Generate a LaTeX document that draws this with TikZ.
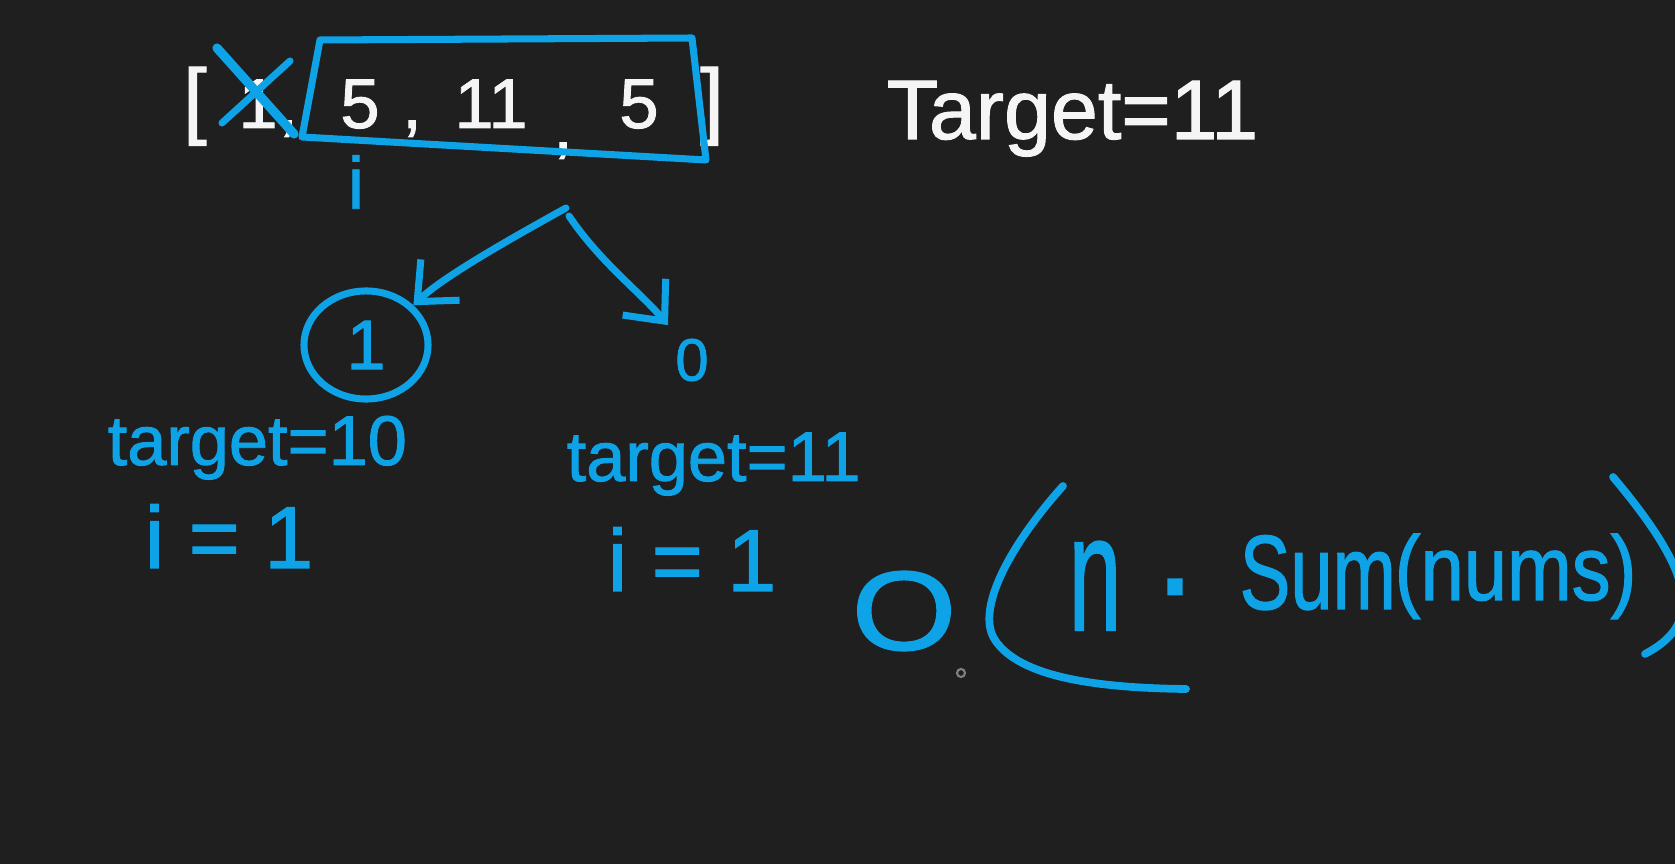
\documentclass[tikz,border=0pt]{standalone}
\usepackage{fontspec}
\setmainfont{Liberation Sans}[FakeBold=1.3]
\usetikzlibrary{arrows.meta,shapes.geometric,calc}
\definecolor{bg}{RGB}{31,31,31}
\definecolor{ink}{RGB}{14,163,230}
\definecolor{chalk}{RGB}{245,245,245}
\newcommand\hsz[1]{\fontsize{#1}{#1}\selectfont}
\begin{document}
\begin{tikzpicture}[x=0.01cm,y=-0.01cm,
  pen/.style={line width=2pt, line cap=round, line join=round},
  wtxt/.style={text=chalk, inner sep=0pt},
  btxt/.style={text=ink, inner sep=0pt},
  arr/.style={pen, draw=ink, -{Straight Barb[length=9pt,width=16pt,line width=2pt]}}]
\fill[bg] (0,0) rectangle (1675,864);
\useasboundingbox (0,0) rectangle (1675,864);
% array
\node[wtxt, anchor=base, font=\hsz{24}] (lb) at (195,128) {[};
\node[wtxt, anchor=base, font=\hsz{20}] (one) at (258,128) {1};
\node[wtxt, anchor=base, font=\hsz{20}] (cm1) at (288,128) {,};
\node[wtxt, anchor=base, font=\hsz{20}] (five1) at (360,128) {5};
\node[wtxt, anchor=base, font=\hsz{20}] (cm2) at (412,128) {,};
\node[wtxt, anchor=base, font=\hsz{20}] (eleven) at (491,128) {11};
\node[wtxt, anchor=base, font=\hsz{20}] (cm3) at (563,150) {,};
\node[wtxt, anchor=base, font=\hsz{20}] (five2) at (639,128) {5};
\node[wtxt, anchor=base, font=\hsz{24}] (rb) at (712,128) {]};
\draw[pen, ink] (320,40) -- (692,38) -- (706,160) -- (302,137) -- cycle;
\draw[pen, ink, line width=2.6pt] (217,48) -- (294,134);
\draw[pen, ink] (222,123) -- (290,61);
\node[btxt, font=\hsz{21}] (ptr) at (356,182) {i};
\node[wtxt, anchor=base west, font=\hsz{24}] (tg) at (886,139) {Target=11};
% tree
\coordinate (apex) at (566,208);
\coordinate (apex2) at (569,216);
\node[btxt, draw=ink, pen, ellipse, minimum width=1.24cm, minimum height=1.08cm, font=\hsz{20}] (c1) at (366,345) {1};
\node[btxt, font=\hsz{17}] (zero) at (692,360) {0};
\draw[arr] (apex) .. controls (490,250) and (440,280) .. (c1.40);
\draw[arr] (apex2) .. controls (600,262) and (640,292) .. ($(zero.north)+(-24,-13)$);
\node[btxt, anchor=base west, font=\hsz{20}] (t10) at (107,465) {target=10};
\node[btxt, anchor=base west, font=\hsz{25}] (i1) at (144,568) {i = 1};
\node[btxt, anchor=base west, font=\hsz{20}] (t11) at (566,481) {target=11};
\node[btxt, anchor=base west, font=\hsz{25}] (i2) at (607,591) {i = 1};
% complexity
\node[btxt, font=\hsz{32}] (bigO) at (904,611) {\scalebox{1.2}[1]{O}};
\draw[pen, ink, line width=2.2pt] (1063,486) .. controls (1010,545) and (975,610) .. (995,640) .. controls (1020,678) and (1100,688) .. (1186,689);
\node[btxt, anchor=base, font=\hsz{36}] (nn) at (1095,630) {\scalebox{0.75}[1.3]{n}};
\node[btxt, anchor=base, font=\hsz{40}] (dot) at (1175,625) {·};
\node[btxt, anchor=base west, font=\hsz{30}] (sum) at (1239,609) {\scalebox{0.72}[1]{Sum}};
\node[btxt, anchor=base west, font=\hsz{26}] (nums) at (1394,600) {\scalebox{0.85}[1]{(nums)}};
\draw[pen, ink, line width=2.2pt] (1613,477) .. controls (1700,580) and (1700,625) .. (1645,654);
\node[draw=gray, circle, inner sep=0pt, minimum size=0.08cm, line width=0.6pt] (cur) at (961,673) {};
\end{tikzpicture}
\end{document}
